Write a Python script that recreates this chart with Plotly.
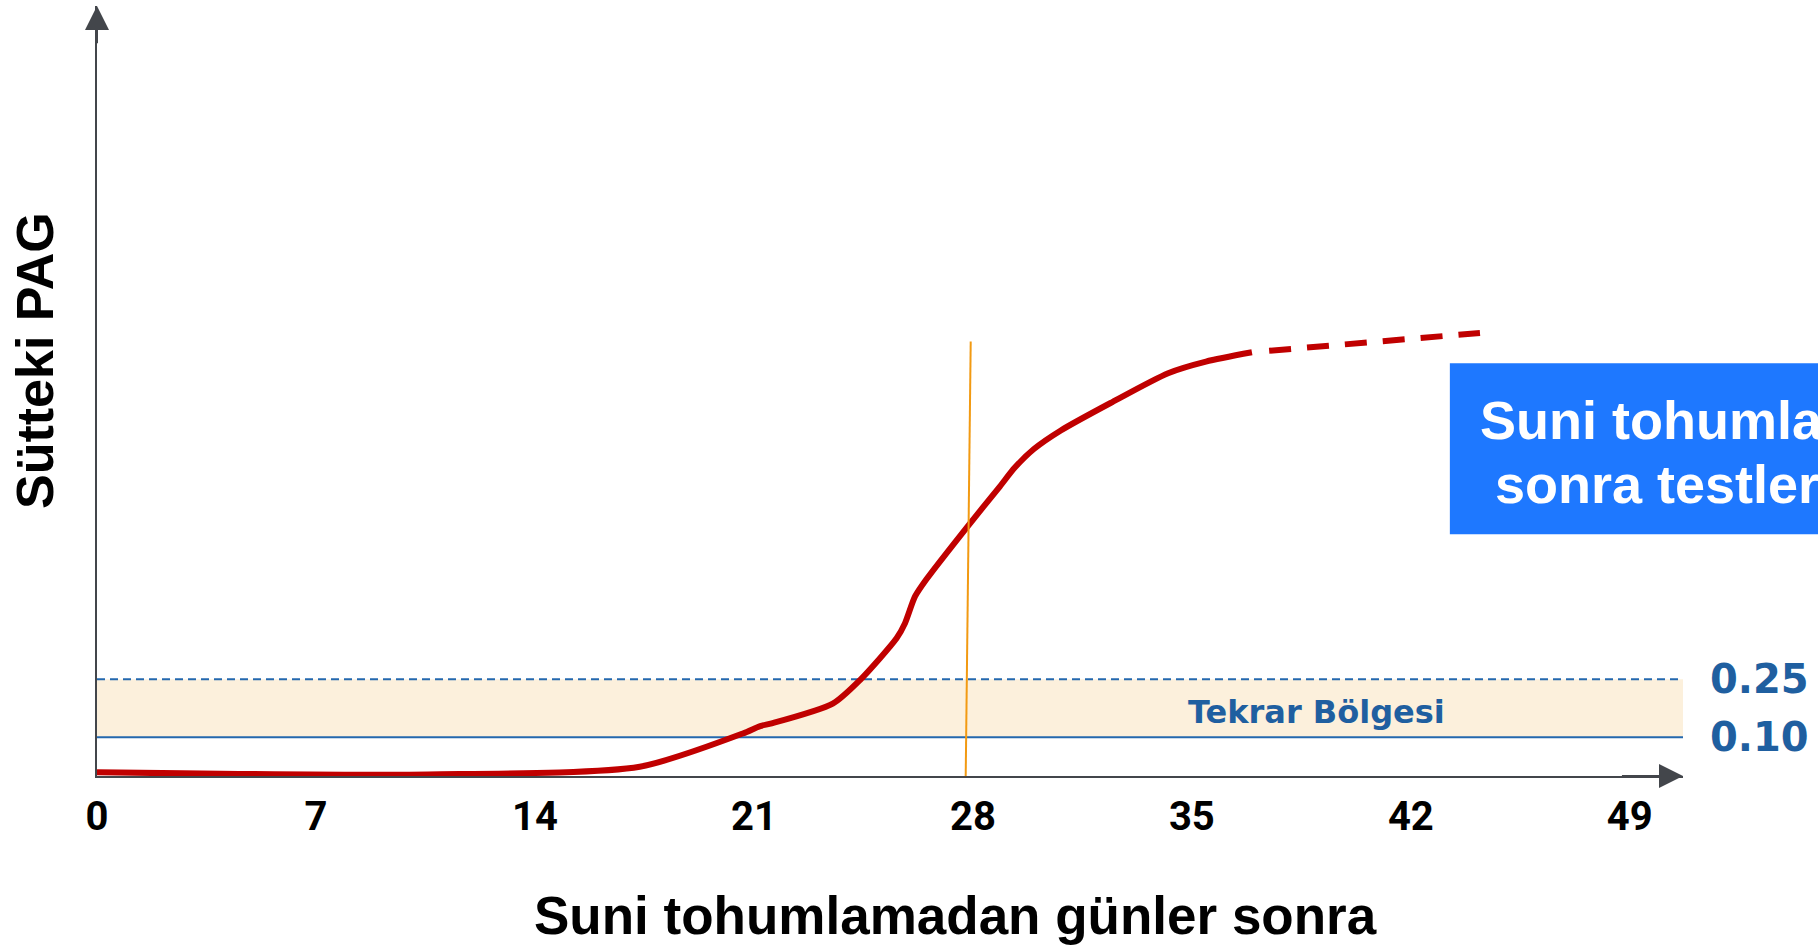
import plotly.graph_objects as go

# ---- data ----
days = [0, 10.57, 17.35, 20.65, 21.2, 21.57, 23.52, 24.39, 25.56, 25.83, 26.15, 26.52,
        27.84, 28.86, 29.34, 29.95, 30.81, 32.40, 34.24, 35.45, 36.92]
pag = [0.010, 0.004, 0.024, 0.110, 0.129, 0.136, 0.187, 0.248, 0.356, 0.395, 0.464, 0.509,
       0.646, 0.748, 0.797, 0.845, 0.893, 0.964, 1.041, 1.071, 1.095]
proj_days = [37.47, 44.21]
proj_pag = [1.099, 1.145]
marker_days = [27.77, 27.93]
marker_pag = [0.0, 1.123]
repeat_low = 0.10
repeat_high = 0.25
threshold_vals = [0.10, 0.25]
threshold_text = ["0.10", "0.25"]
x_ticks = [0, 7, 14, 21, 28, 35, 42, 49]
x_tick_text = ["0", "7", "14", "21", "28", "35", "42", "49"]
x_range = [0, 50.7]
y_range = [0, 1.99]

x_title = "Suni tohumlamadan günler sonra"
y_title = "Sütteki PAG"
zone_label = "Tekrar Bölgesi"
box_line1 = "Suni tohumlamadan 28 gün"
box_line2 = "\u00a0sonra testlere başlayın"

RED = "#c00000"
BLUE = "#2468ae"
LABEL_BLUE = "#1f5fa0"
AXIS = "#43464b"

fig = go.Figure()

# repeat zone band (on main y axis, drawn first)
fig.add_trace(go.Scatter(x=x_range, y=[repeat_low, repeat_low], mode="lines",
                         line=dict(color=BLUE, width=2), showlegend=False, hoverinfo="skip"))
fig.add_trace(go.Scatter(x=x_range, y=[repeat_high, repeat_high], mode="lines",
                         line=dict(color=BLUE, width=2, dash="8px,5px"),
                         fill="tonexty", fillcolor="#fcf0dc", showlegend=False, hoverinfo="skip"))

# PAG curve + projection + day-28 marker (on overlaying axis, drawn above band)
fig.add_trace(go.Scatter(x=days, y=pag, mode="lines", yaxis="y2",
                         line=dict(color=RED, width=6, shape="spline", smoothing=0.7),
                         showlegend=False))
fig.add_trace(go.Scatter(x=proj_days, y=proj_pag, mode="lines", yaxis="y2",
                         line=dict(color=RED, width=6, dash="22px,16px"), showlegend=False))
fig.add_trace(go.Scatter(x=marker_days, y=marker_pag, mode="lines", yaxis="y2",
                         line=dict(color="#f29a12", width=2), showlegend=False))

fig.update_layout(
    width=1818, height=947,
    margin=dict(l=97, r=135, t=6, b=171),
    plot_bgcolor="white", paper_bgcolor="white",
    showlegend=False,
    xaxis=dict(range=x_range, tickvals=x_ticks, ticktext=x_tick_text,
               showgrid=False, zeroline=False, showline=True, linecolor=AXIS, linewidth=2,
               ticks="", ticklabelstandoff=4, layer="below traces",
               tickfont=dict(family="Roboto, DejaVu Sans", size=40, color="black", weight="bold")),
    yaxis=dict(range=y_range, showgrid=False, zeroline=False, showline=True,
               linecolor=AXIS, linewidth=2, showticklabels=False, ticks="",
               layer="below traces"),
    yaxis2=dict(range=y_range, overlaying="y", side="right", showgrid=False,
                zeroline=False, showline=False, ticks="", tickvals=threshold_vals,
                ticktext=threshold_text, ticklabelstandoff=26,
                tickfont=dict(family="DejaVu Sans", size=40, color=LABEL_BLUE, weight="bold")),
)

# blue info box (runs off the right edge, as in the reference)
fig.add_shape(type="rect", xref="paper", yref="paper", x0=0.853, x1=1.2, y0=0.3139, y1=0.536,
              fillcolor="#1e78ff", line=dict(width=0), layer="above")

annotations = [
    # axis arrowheads
    dict(x=0, y=y_range[1], ax=0, ay=y_range[1] - 0.1, xref="x", yref="y", axref="x", ayref="y",
         showarrow=True, arrowhead=2, arrowsize=2.4, arrowwidth=2, arrowcolor=AXIS, text="", standoff=0),
    dict(x=x_range[1], y=0, ax=x_range[1] - 2, ay=0, xref="x", yref="y", axref="x", ayref="y",
         showarrow=True, arrowhead=2, arrowsize=2.4, arrowwidth=2, arrowcolor=AXIS, text="", standoff=0),
    # titles
    dict(text=x_title, xref="paper", yref="paper", x=0.5416, y=-0.1818, showarrow=False,
         xanchor="center", yanchor="middle",
         font=dict(family="Liberation Sans, Arial", size=53, color="black", weight="bold")),
    dict(text=y_title, xref="paper", yref="paper", x=-0.0391, y=0.5403, showarrow=False,
         textangle=-90, xanchor="center", yanchor="middle",
         font=dict(family="Liberation Sans, Arial", size=52, color="black", weight="bold")),
    # zone label
    dict(text=zone_label, xref="x", yref="y", x=38.97, y=0.165, showarrow=False,
         xanchor="center", yanchor="middle",
         font=dict(family="DejaVu Sans", size=32, color=LABEL_BLUE, weight="bold")),
    # box text
    dict(text=box_line1, xref="paper", yref="paper", x=0.8707, y=0.4623, showarrow=False,
         xanchor="left", yanchor="middle", align="left",
         font=dict(family="Liberation Sans, Arial", size=54, color="white", weight="bold")),
    dict(text=box_line2, xref="paper", yref="paper", x=0.8707, y=0.3792, showarrow=False,
         xanchor="left", yanchor="middle", align="left",
         font=dict(family="Liberation Sans, Arial", size=54, color="white", weight="bold")),
]
fig.update_layout(annotations=annotations)

fig.write_html("out.html", config={"displayModeBar": False},
               post_script="document.body.style.margin='0';document.body.style.overflow='hidden';")
